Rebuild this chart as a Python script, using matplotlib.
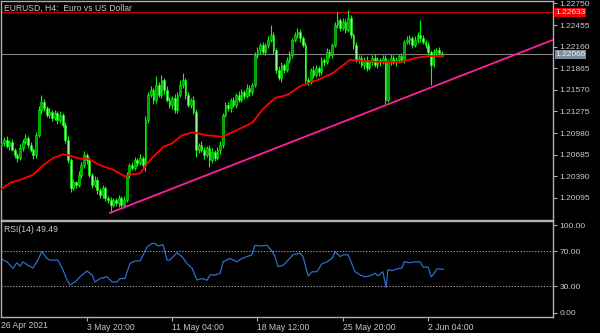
import numpy as np
import matplotlib.pyplot as plt
from matplotlib import transforms

plt.rcParams['font.family'] = ['Liberation Sans', 'DejaVu Sans']

# EURUSD H4, bar 0 = 26 Apr 2021 00:00 (weekends skipped), first drawn bar = 3
first_bar = 3
first_open = 1.2082
close = [
    1.2085, 1.2089, 1.2080, 1.2086, 1.2075, 1.2068, 1.2064, 1.2078, 1.2086, 1.2091,
    1.2082, 1.2075, 1.2068, 1.2095, 1.2129, 1.2140, 1.2132, 1.2123, 1.2127, 1.2119,
    1.2125, 1.2116, 1.2123, 1.2109, 1.2089, 1.2061, 1.2023, 1.2031, 1.2027, 1.2041,
    1.2054, 1.2068, 1.2061, 1.2041, 1.2027, 1.2034, 1.2020, 1.2013, 1.2023, 1.2009,
    1.2007, 1.2000, 1.2007, 1.2002, 1.2009, 1.2000, 1.2007, 1.2041, 1.2054, 1.2050,
    1.2061, 1.2057, 1.2064, 1.2054, 1.2116, 1.2150, 1.2157, 1.2143, 1.2164, 1.2150,
    1.2170, 1.2157, 1.2143, 1.2136, 1.2146, 1.2129, 1.2150, 1.2164, 1.2170, 1.2150,
    1.2136, 1.2143, 1.2127, 1.2075, 1.2082, 1.2075, 1.2068, 1.2078, 1.2061, 1.2072,
    1.2064, 1.2075, 1.2082, 1.2123, 1.2136, 1.2132, 1.2143, 1.2136, 1.2150, 1.2143,
    1.2154, 1.2149, 1.2160, 1.2154, 1.2164, 1.2205, 1.2211, 1.2218, 1.2209, 1.2218,
    1.2225, 1.2232, 1.2211, 1.2184, 1.2173, 1.2191, 1.2184, 1.2198, 1.2205, 1.2225,
    1.2232, 1.2236, 1.2228, 1.2218, 1.2170, 1.2168, 1.2184, 1.2177, 1.2187, 1.2181,
    1.2198, 1.2195, 1.2209, 1.2205, 1.2218, 1.2246, 1.2252, 1.2242, 1.2250, 1.2239,
    1.2255, 1.2232, 1.2218, 1.2198, 1.2201, 1.2191, 1.2198, 1.2187, 1.2195, 1.2201,
    1.2191, 1.2198, 1.2195, 1.2201, 1.2143, 1.2195, 1.2201, 1.2195, 1.2198, 1.2203,
    1.2198, 1.2222, 1.2225, 1.2228, 1.2218, 1.2225, 1.2232, 1.2228, 1.2222, 1.2218,
    1.2209, 1.2191, 1.2209, 1.2211, 1.2207, 1.22066,
]
# wick lengths in pips above / below the body
up_wick = [
    4, 3, 5, 3, 4, 2, 3, 5, 4, 6,
    3, 4, 2, 5, 6, 10, 4, 3, 5, 3,
    4, 3, 5, 3, 4, 5, 3, 4, 2, 5,
    4, 6, 3, 4, 3, 5, 4, 3, 4, 3,
    3, 4, 3, 2, 4, 3, 5, 4, 3, 4,
    4, 3, 5, 3, 5, 4, 5, 3, 12, 4,
    8, 3, 5, 4, 3, 5, 4, 6, 10, 3,
    4, 3, 5, 4, 3, 5, 4, 3, 4, 5,
    3, 4, 5, 3, 4, 5, 3, 4, 3, 5,
    4, 3, 5, 4, 3, 4, 5, 3, 4, 3,
    5, 14, 4, 3, 5, 4, 3, 4, 5, 3,
    4, 5, 4, 3, 5, 4, 3, 5, 4, 3,
    4, 3, 5, 4, 3, 4, 12, 3, 5, 4,
    11, 4, 3, 5, 4, 3, 4, 5, 3, 4,
    5, 4, 3, 4, 3, 4, 5, 3, 4, 3,
    4, 3, 5, 4, 3, 5, 4, 21, 4, 3,
    4, 3, 4, 3, 4, 3,
]
low_wick = [
    3, 4, 3, 5, 2, 4, 5, 3, 4, 3,
    4, 3, 5, 4, 3, 5, 4, 3, 4, 5,
    3, 5, 4, 3, 5, 4, 5, 3, 4, 3,
    4, 3, 5, 3, 4, 3, 5, 4, 3, 4,
    4, 11, 3, 4, 5, 3, 4, 3, 4, 3,
    3, 4, 3, 5, 8, 4, 3, 5, 4, 3,
    4, 5, 3, 4, 5, 3, 4, 3, 4, 5,
    3, 4, 3, 10, 4, 3, 5, 3, 9, 4,
    4, 3, 5, 4, 3, 4, 5, 3, 4, 3,
    3, 4, 3, 5, 4, 3, 4, 5, 3, 4,
    4, 3, 5, 4, 3, 5, 4, 3, 4, 5,
    3, 4, 5, 3, 4, 5, 3, 4, 3, 5,
    4, 5, 3, 4, 5, 3, 4, 5, 3, 4,
    3, 4, 5, 3, 4, 3, 5, 4, 3, 4,
    3, 4, 5, 3, 5, 3, 4, 3, 5, 4,
    3, 4, 3, 5, 4, 3, 4, 5, 3, 4,
    5, 27, 3, 4, 3, 4,
]

# moving average (red)
ma_bar = [2.5, 6.2, 10, 14.8, 18.6, 22.4, 26.1, 28, 32.5, 35.5, 40, 44.8, 49.3, 52.4,
          55, 58.7, 63.6, 67, 70.7, 74.8, 80.1, 85.7, 91.3, 97, 101.1, 105.6, 110.1,
          115, 122.5, 127.3, 133.7, 140.1, 146.1, 152.5, 158.8, 162.6, 168.6]
ma_val = [1.2020, 1.2030, 1.2034, 1.2041, 1.2054, 1.2064, 1.2069, 1.2068, 1.2063, 1.2063,
          1.2054, 1.2048, 1.2039, 1.2042, 1.2043, 1.2061, 1.2079, 1.2084, 1.2095, 1.2099,
          1.2095, 1.2093, 1.2102, 1.2112, 1.2131, 1.2146, 1.2150, 1.2162, 1.2172, 1.2180,
          1.2198, 1.2196, 1.2195, 1.2195, 1.2201, 1.2203, 1.2203]

# RSI(14)
rsi_bar = [2.5, 5.1, 7.3, 8.8, 10, 11.1, 13, 14.8, 16.3, 18.2, 20.1, 21.2, 24.2, 26.1,
           27.6, 28.7, 30.6, 32.5, 35.1, 37, 38.1, 40, 42.6, 44.5, 46.3, 47.5, 49.3,
           51.2, 53.1, 55, 57.6, 59.5, 60.6, 61.7, 63.6, 65.1, 66.2, 68.8, 70.7, 72.6,
           74.5, 76.3, 78.2, 80.1, 81.2, 83.1, 85, 86.1, 88.7, 91.3, 93.2, 95.1, 96.9,
           98.1, 100, 102.6, 104.5, 105.6, 106.7, 108.6, 110.5, 112.3, 115, 116.1, 118,
           119.5, 121.3, 123.2, 125.1, 127, 128.1, 130, 131.1, 133, 135.6, 137.5, 139.3,
           141.2, 143.1, 144.2, 146, 147.2, 147.9, 149.5, 151.3, 153.2, 154, 156.2,
           158.1, 160, 161.1, 163, 164.1, 164.8, 166.3, 168.6]
rsi_val = [62, 58, 50.6, 57, 53, 58, 54, 51, 58, 69.6, 62, 60, 60, 48.7,
           37.3, 31.6, 35, 41, 47.6, 43, 35, 39, 41, 35, 35, 39, 39,
           56.3, 59, 59, 75, 79, 79, 76, 77.6, 60, 60, 68.4, 64, 56,
           50.6, 37.3, 39, 37, 43, 43, 45, 58, 62, 58, 62, 64, 66,
           77, 76, 77, 70, 64, 52.5, 54, 60, 66, 68, 64, 41.8,
           46.7, 46.7, 56, 58, 62, 69.6, 64, 66, 66, 46.7, 43, 41,
           42, 45, 42, 46.7, 29, 49, 48, 50, 51, 58, 57,
           58, 58, 52, 52, 41, 43, 50, 49.5]

trend_bar = [43.7, 147.0]
trend_val = [1.1989, 1.2136]
high_line = 1.22633
bid = 1.22066

price_ticks = [1.22750, 1.22455, 1.22160, 1.21865, 1.21570, 1.21275, 1.20980, 1.20685, 1.20390, 1.20095]
rsi_ticks = [100, 70, 30, 0]
time_ticks = [35, 67, 99, 131, 163]
time_labels = ['3 May 20:00', '11 May 04:00', '18 May 12:00', '25 May 20:00', '2 Jun 04:00']

FG = '#c8c8c8'
BORDER = '#b0b0b0'
FS = 6.0

W, H = 600, 333


def box(x0, y0, x1, y1):
    return [x0 / W, 1 - y1 / H, (x1 - x0) / W, (y1 - y0) / H]


fig = plt.figure(figsize=(6.0, 3.33), dpi=100, facecolor='black')
ax = fig.add_axes(box(1, 1, 553, 220))
ax_rsi = fig.add_axes(box(1, 221, 553, 317))

for a in (ax, ax_rsi):
    a.set_facecolor('black')
    for s in a.spines.values():
        s.set_color(BORDER)
        s.set_linewidth(1.0)
    a.set_xlim(2.85, 209.8)
    a.yaxis.tick_right()
    a.tick_params(axis='y', colors=BORDER, labelcolor=FG, length=3, width=0.8,
                  labelsize=FS, pad=1.5)

# candles
c = np.array(close)
o = np.concatenate([[first_open], c[:-1]])
hi = np.maximum(o, c) + np.array(up_wick) * 1e-4
lo = np.minimum(o, c) - np.array(low_wick) * 1e-4
xb = np.arange(first_bar, first_bar + len(c))
up = c >= o

ax.vlines(xb, lo, hi, color='#00ff00', linewidth=0.8, zorder=2)
ax.bar(xb[up], (c - o)[up] + 1e-5, bottom=o[up], width=0.7, color='#00a000',
       edgecolor='#00ff00', linewidth=0.4, zorder=3)
ax.bar(xb[~up], (o - c)[~up] + 1e-5, bottom=c[~up], width=0.7, color='#90ff90',
       edgecolor='#00ff00', linewidth=0.4, zorder=3)

ax.plot(ma_bar, ma_val, color='#ff0000', linewidth=1.3, zorder=4)

# trend line (ray)
slope = (trend_val[1] - trend_val[0]) / (trend_bar[1] - trend_bar[0])
ax.plot([trend_bar[0], 220], [trend_val[0], trend_val[0] + slope * (220 - trend_bar[0])],
        color='#ff1fa0', linewidth=1.3, zorder=5)

ax.axhline(high_line, color='#c00000', linewidth=1.0, zorder=1)
ax.axhline(bid, color='#808080', linewidth=0.8, zorder=1)

ax.set_ylim(1.19793, 1.22784)
ax.set_yticks(price_ticks)
ax.set_yticklabels([f'{t:.5f}' for t in price_ticks])
ax.set_xticks([])

tr = transforms.blended_transform_factory(ax.transAxes, ax.transData)
ax.text(1.004, high_line, f'{high_line:.5f}', transform=tr, fontsize=FS, color='#ffe0e0',
        va='center', ha='left', zorder=6,
        bbox=dict(boxstyle='square,pad=0.12', facecolor='#f00000', edgecolor='none'))
ax.text(1.004, bid - 0.00013, f'{bid:.5f}', transform=tr, fontsize=FS, color='#e8eef4',
        va='center', ha='left', zorder=6,
        bbox=dict(boxstyle='square,pad=0.08', facecolor='#7d8c9a', edgecolor='none'))

ax.text(0.006, 0.985, 'EURUSD, H4:  Euro vs US Dollar', transform=ax.transAxes,
        fontsize=6.2, color=FG, va='top', ha='left')

# RSI panel
ax_rsi.plot(rsi_bar, rsi_val, color='#2a6fc8', linewidth=0.9)
for lvl in (70, 30):
    ax_rsi.axhline(lvl, color='#c0c0c0', linewidth=0.6, linestyle=(0, (1.5, 2)))
ax_rsi.set_ylim(-4.9, 104.6)
ax_rsi.set_yticks(rsi_ticks)
ax_rsi.set_yticklabels([f'{t:.2f}' for t in rsi_ticks])
ax_rsi.set_xticks(time_ticks)
ax_rsi.set_xticklabels(time_labels, ha='left')
ax_rsi.tick_params(axis='x', colors=BORDER, labelcolor=FG, length=3, width=0.8,
                   labelsize=6.2, pad=1.5)
ax_rsi.text(0.006, 0.96, 'RSI(14) 49.49', transform=ax_rsi.transAxes,
            fontsize=6.2, color=FG, va='top', ha='left')
ax_rsi.text(0.0, -0.045, '26 Apr 2021', transform=ax_rsi.transAxes,
            fontsize=6.2, color=FG, va='top', ha='left')

fig.savefig('out.png', dpi=100, facecolor='black')
